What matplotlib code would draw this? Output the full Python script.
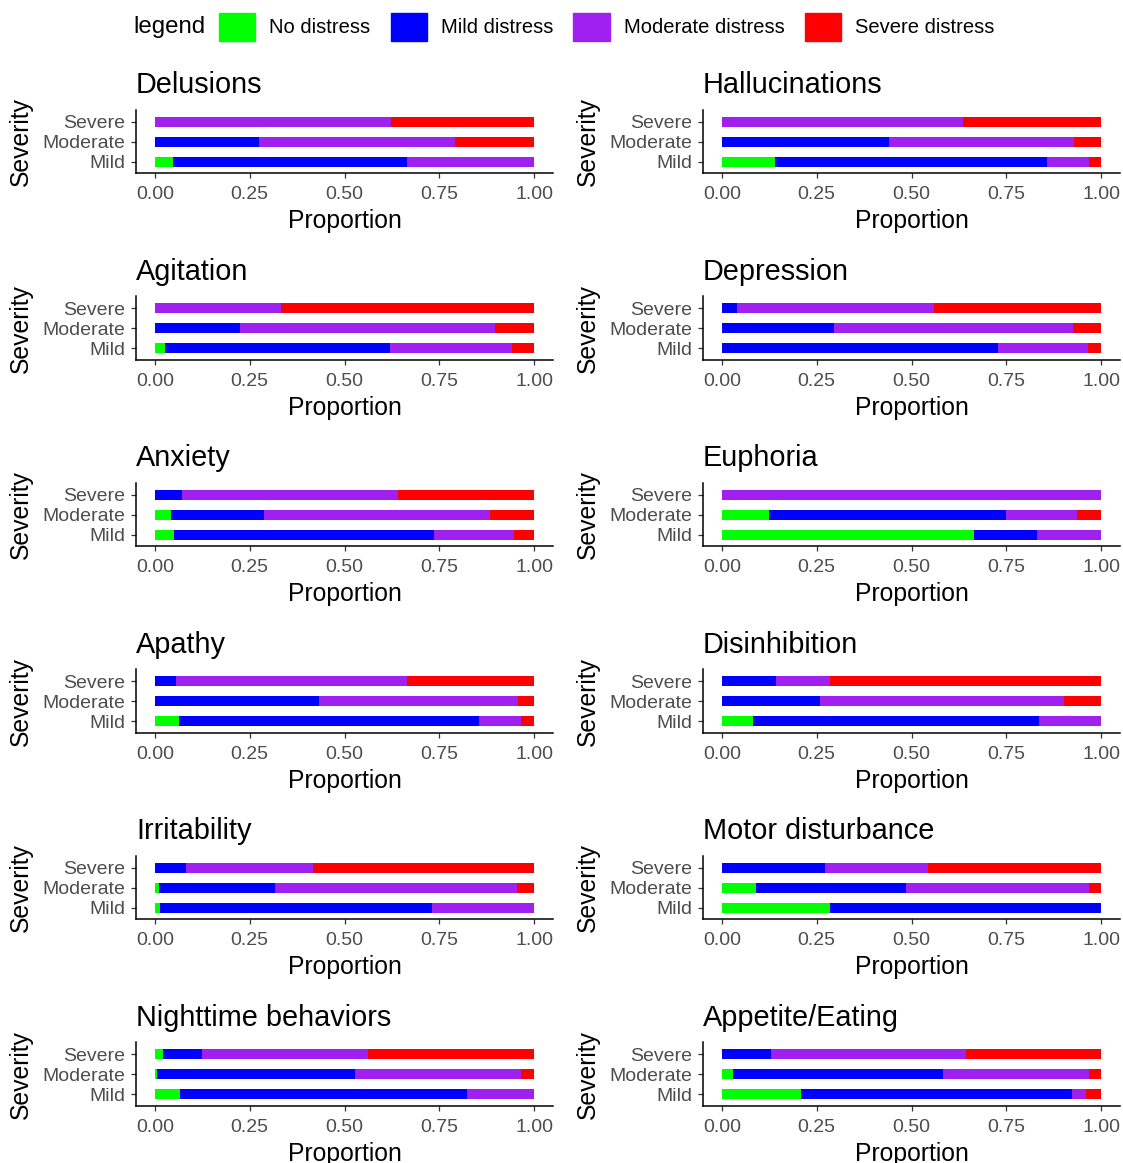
import numpy as np
import matplotlib.pyplot as plt
from matplotlib.patches import Patch

plt.rcParams["font.family"] = ["Liberation Sans", "DejaVu Sans"]

symptoms = ["Delusions", "Hallucinations", "Agitation", "Depression",
            "Anxiety", "Euphoria", "Apathy", "Disinhibition",
            "Irritability", "Motor disturbance", "Nighttime behaviors", "Appetite/Eating"]
severity = ["Mild", "Moderate", "Severe"]
distress = ["No distress", "Mild distress", "Moderate distress", "Severe distress"]
colors = ["#00FF00", "#0000FF", "#A020F0", "#FF0000"]

# share of each distress level per symptom, columns = Mild / Moderate / Severe
no_distress = [
    [0.047, 0.000, 0.000],
    [0.140, 0.000, 0.000],
    [0.026, 0.000, 0.000],
    [0.000, 0.000, 0.000],
    [0.050, 0.042, 0.000],
    [0.665, 0.124, 0.000],
    [0.063, 0.000, 0.000],
    [0.082, 0.000, 0.000],
    [0.013, 0.011, 0.000],
    [0.285, 0.090, 0.000],
    [0.066, 0.005, 0.021],
    [0.208, 0.029, 0.000],
]
mild_distress = [
    [0.618, 0.274, 0.000],
    [0.718, 0.441, 0.000],
    [0.594, 0.224, 0.000],
    [0.728, 0.296, 0.040],
    [0.686, 0.246, 0.071],
    [0.166, 0.625, 0.000],
    [0.792, 0.433, 0.055],
    [0.754, 0.259, 0.142],
    [0.718, 0.306, 0.082],
    [0.715, 0.395, 0.272],
    [0.757, 0.523, 0.103],
    [0.715, 0.554, 0.129],
]
moderate_distress = [
    [0.335, 0.518, 0.623],
    [0.110, 0.488, 0.636],
    [0.322, 0.673, 0.332],
    [0.238, 0.630, 0.519],
    [0.211, 0.596, 0.570],
    [0.169, 0.188, 1.000],
    [0.111, 0.525, 0.610],
    [0.164, 0.643, 0.143],
    [0.269, 0.638, 0.335],
    [0.000, 0.483, 0.272],
    [0.177, 0.438, 0.438],
    [0.037, 0.385, 0.515],
]
severe_distress = [
    [0.000, 0.208, 0.377],
    [0.032, 0.071, 0.364],
    [0.058, 0.103, 0.668],
    [0.034, 0.074, 0.441],
    [0.053, 0.116, 0.359],
    [0.000, 0.063, 0.000],
    [0.034, 0.042, 0.335],
    [0.000, 0.098, 0.715],
    [0.000, 0.045, 0.583],
    [0.000, 0.032, 0.456],
    [0.000, 0.034, 0.438],
    [0.040, 0.032, 0.356],
]

shares = np.array([no_distress, mild_distress, moderate_distress, severe_distress])

W, H = 1123, 1163
fig = plt.figure(figsize=(W / 100, H / 100), dpi=100)

ypos = np.arange(1, 4)
for i, name in enumerate(symptoms):
    row, col = divmod(i, 2)
    x0 = 136 if col == 0 else 703
    yc = 141.7 + 186.5 * row
    ax = fig.add_axes([x0 / W, 1 - (yc + 31.75) / H, 417 / W, 63.5 / H])
    left = np.zeros(3)
    for k in range(4):
        ax.barh(ypos, shares[k, i], left=left, height=0.5, color=colors[k], linewidth=0)
        left += shares[k, i]
    ax.set_xlim(-0.05, 1.05)
    ax.set_ylim(0.4, 3.6)
    ax.set_yticks(ypos, severity)
    ax.set_xticks([0, 0.25, 0.5, 0.75, 1.0], ["0.00", "0.25", "0.50", "0.75", "1.00"])
    for s in ["top", "right"]:
        ax.spines[s].set_visible(False)
    for s in ["left", "bottom"]:
        ax.spines[s].set_linewidth(1.1)
    ax.tick_params(labelsize=14, labelcolor="#4D4D4D", color="#333333",
                   length=3.6, width=0.9)
    ax.tick_params(axis="x", pad=5.5)
    ax.tick_params(axis="y", pad=4)
    ax.set_title(name, loc="left", fontsize=20.8, pad=12)
    ax.set_xlabel("Proportion", fontsize=17.8, labelpad=4.4)
    ax.set_ylabel("Severity", fontsize=17.8, labelpad=7.2)

handles = [Patch(color=c) for c in colors]
fig.legend(handles, distress, loc="center left", bbox_to_anchor=(219 / W, 1 - 27 / H),
           ncol=4, frameon=False, fontsize=14.5, handlelength=1.8, handleheight=1.8,
           handletextpad=0.7, columnspacing=1.0, borderpad=0, borderaxespad=0)
fig.text(133 / W, 1 - 27 / H, "legend", fontsize=17.3, va="center", ha="left")

fig.savefig("out.png", dpi=100)
